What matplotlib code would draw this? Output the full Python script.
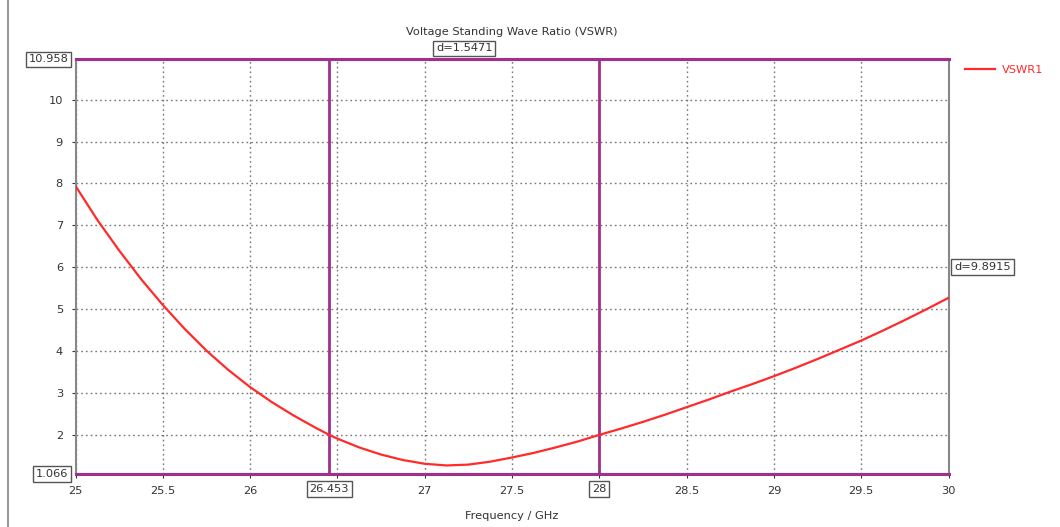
import matplotlib
matplotlib.use("Agg")
import matplotlib.pyplot as plt
from matplotlib.lines import Line2D

# ---- data ----
freq_ghz = [25.0, 25.125, 25.25, 25.375, 25.5, 25.625, 25.75, 25.875, 26.0, 26.125,
            26.25, 26.375, 26.453, 26.5, 26.625, 26.75, 26.875, 27.0, 27.125, 27.25,
            27.375, 27.5, 27.625, 27.75, 27.875, 28.0, 28.125, 28.25, 28.375, 28.5,
            28.625, 28.75, 28.875, 29.0, 29.125, 29.25, 29.375, 29.5, 29.625, 29.75,
            29.875, 30.0]
vswr1 = [7.94, 7.13, 6.40, 5.72, 5.10, 4.53, 4.01, 3.55, 3.14, 2.78,
         2.46, 2.17, 2.00, 1.91, 1.70, 1.53, 1.40, 1.31, 1.27, 1.29,
         1.36, 1.46, 1.57, 1.70, 1.84, 2.00, 2.15, 2.31, 2.48, 2.66,
         2.84, 3.03, 3.21, 3.40, 3.60, 3.81, 4.03, 4.25, 4.49, 4.74,
         5.00, 5.27]
marker_x = [26.453, 28.0]
marker_x_labels = ["26.453", "28"]
marker_y = [1.066, 10.958]
marker_y_labels = ["1.066", "10.958"]
delta_x_label = "d=1.5471"
delta_y_label = "d=9.8915"
x_ticks = [25, 25.5, 26, 26.5, 27, 27.5, 28, 28.5, 29, 29.5, 30]
x_tick_labels = ["25", "25.5", "26", "", "27", "27.5", "", "28.5", "29", "29.5", "30"]
y_ticks = [2, 3, 4, 5, 6, 7, 8, 9, 10]
series_name = "VSWR1"
title = "Voltage Standing Wave Ratio (VSWR)"
xlabel = "Frequency / GHz"

# ---- style ----
plt.rcParams['font.family'] = ['DejaVu Sans']
txt_col = "#333333"
mark_col = "#a0308c"
curve_col = "#ff2a2a"
fs = 8.2

fig = plt.figure(figsize=(10.6, 5.27), dpi=100)
W, H = 1060, 527
left, right, bottom, top = 75.5 / W, 948.5 / W, 1 - 474 / H, 1 - 59.5 / H
ax = fig.add_axes([left, bottom, right - left, top - bottom])

ax.plot(freq_ghz, vswr1, color=curve_col, lw=1.6, label=series_name, zorder=4)

ax.set_xlim(25, 30)
ax.set_ylim(marker_y[0], marker_y[1])
ax.set_xticks(x_ticks)
ax.set_xticklabels(x_tick_labels)
ax.set_yticks(y_ticks)
ax.tick_params(axis='both', labelsize=fs, colors=txt_col, length=3, width=0.8,
               direction='out', pad=6)
ax.grid(True, linestyle=(0, (1.2, 2.2)), color="#777777", lw=1.0)

for s in ax.spines.values():
    s.set_color("#888888")
    s.set_linewidth(1.5)

# marker lines
for xv in marker_x:
    ax.axvline(xv, color=mark_col, lw=2, zorder=3)
for yv in marker_y:
    ax.axhline(yv, color=mark_col, lw=2.2, zorder=3, clip_on=False)

box = dict(boxstyle="square,pad=0.25", fc="white", ec="#555555", lw=1.0)

# y marker labels (left of axes)
for yv, lab in zip(marker_y, marker_y_labels):
    ax.annotate(lab, xy=(0, yv), xycoords=('axes fraction', 'data'),
                xytext=(-5, 0), textcoords='offset points', ha='right', va='center',
                fontsize=fs, color=txt_col, bbox=box, annotation_clip=False)

# x marker labels (below axes)
for xv, lab in zip(marker_x, marker_x_labels):
    ax.annotate(lab, xy=(xv, 0), xycoords=('data', 'axes fraction'),
                xytext=(0, -11), textcoords='offset points', ha='center', va='center',
                fontsize=fs, color=txt_col, bbox=box, annotation_clip=False)

# delta labels
ax.annotate(delta_x_label, xy=((marker_x[0] + marker_x[1]) / 2, 1), xycoords=('data', 'axes fraction'),
            xytext=(0, 8), textcoords='offset points', ha='center', va='center',
            fontsize=fs, color=txt_col, bbox=box, annotation_clip=False, zorder=6)
ax.annotate(delta_y_label, xy=(1, (marker_y[0] + marker_y[1]) / 2), xycoords=('axes fraction', 'data'),
            xytext=(4, 0), textcoords='offset points', ha='left', va='center',
            fontsize=fs, color=txt_col, bbox=box, annotation_clip=False)

fig.text(0.483, 1 - 32 / H, title, ha='center', va='center', fontsize=fs, color=txt_col)
fig.text(512 / W, 1 - 516 / H, xlabel, ha='center', va='center', fontsize=fs, color=txt_col)

leg = ax.legend(loc='center left', bbox_to_anchor=(955 / W, 1 - 70 / H),
                bbox_transform=fig.transFigure, frameon=False, fontsize=fs,
                handlelength=2.6, handletextpad=0.6, labelcolor=curve_col)

# left window border
fig.add_artist(Line2D([8 / W, 8 / W], [0, 1], color="#999999", lw=1.5))

fig.savefig("out.png", dpi=100, facecolor="white")
